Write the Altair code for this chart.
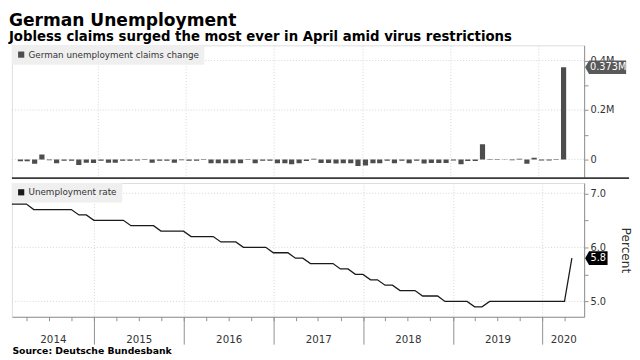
import altair as alt
import pandas as pd

# ---------------- data ----------------
# Monthly, Jan 2014 .. Apr 2020
first_month = "2014-01-01"
last_month = "2020-04-01"

# change in unemployment claims, thousands
claims_change_k = [
    -20, -7, -7, -17, 20, -3, -15, -5, -5, -23, -13, -14,     # 2014
    -5, -13, -13, -5, -5, -4, 2, -13, -5, -5, -13, -3,        # 2015
    -5, -5, 2, -15, -15, -15, -15, -15, -2, -15, -5, -5,      # 2016
    -15, -15, -20, -15, -6, 3, -14, -14, -16, -15, -15, -27,  # 2017
    -25, -15, -15, -5, -15, -5, -15, -5, -16, -14, -14, -14,  # 2018
    -4, -20, -6, -6, 61, -2, -2, 1, -3, 3, -17, 7,            # 2019
    -4, -4, -2, 373,                                          # 2020
]

# unemployment rate, percent
unemployment_rate = [
    6.8, 6.8, 6.8, 6.7, 6.7, 6.7, 6.7, 6.7, 6.7, 6.6, 6.6, 6.5,   # 2014
    6.5, 6.5, 6.5, 6.5, 6.4, 6.4, 6.4, 6.4, 6.3, 6.3, 6.3, 6.3,   # 2015
    6.2, 6.2, 6.2, 6.2, 6.1, 6.1, 6.1, 6.0, 6.0, 6.0, 6.0, 5.9,   # 2016
    5.9, 5.9, 5.8, 5.8, 5.7, 5.7, 5.7, 5.7, 5.6, 5.6, 5.5, 5.5,   # 2017
    5.4, 5.4, 5.3, 5.3, 5.2, 5.2, 5.2, 5.1, 5.1, 5.1, 5.0, 5.0,   # 2018
    5.0, 5.0, 4.9, 4.9, 5.0, 5.0, 5.0, 5.0, 5.0, 5.0, 5.0, 5.0,   # 2019
    5.0, 5.0, 5.0, 5.8,                                         # 2020
]

years = [2014, 2015, 2016, 2017, 2018, 2019, 2020]
claims_ticks = [0, 0.1, 0.2, 0.3, 0.4]
claims_grid = [0, 0.2, 0.4]
rate_ticks = [5.0, 5.5, 6.0, 6.5, 7.0]
rate_grid = [5.0, 6.0, 7.0]

claims_name = "German unemployment claims change"
rate_name = "Unemployment rate"
title_text = "German Unemployment"
subtitle_text = "Jobless claims surged the most ever in April amid virus restrictions"
source_text = "Source: Deutsche Bundesbank"

# ---------------- tables ----------------
months = pd.date_range(first_month, last_month, freq="MS")
bars_df = pd.DataFrame({
    "date": months + pd.Timedelta(days=14),
    "change": [v / 1000 for v in claims_change_k],
    "series": claims_name,
})
line_df = pd.DataFrame({
    "date": months + pd.offsets.MonthEnd(0),
    "rate": unemployment_rate,
    "series": rate_name,
})
tag_top_df = pd.DataFrame({"v": [claims_change_k[-1] / 1000],
                           "lab": [f"{claims_change_k[-1] / 1000:.3f}M"]})
tag_bot_df = pd.DataFrame({"v": [unemployment_rate[-1]],
                           "lab": [f"{unemployment_rate[-1]:.1f}"]})
grid_top_df = pd.DataFrame({"v": claims_grid})
grid_bot_df = pd.DataFrame({"v": rate_grid})

dom_start = pd.Timestamp("2014-01-31")
dom_end = pd.Timestamp("2020-06-19")


def dt(ts):
    return alt.DateTime(year=ts.year, month=ts.month, date=ts.day)


x_scale = alt.Scale(domain=[dt(dom_start), dt(dom_end)])
year_bounds = [dt(pd.Timestamp(y, 1, 1)) for y in years[1:]]
quarter_vals = [dt(d) for d in pd.date_range("2014-04-01", "2020-04-01", freq="QS")]
label_vals = []
for y in years:
    s = max(pd.Timestamp(y, 1, 1), dom_start)
    e = min(pd.Timestamp(y + 1, 1, 1), dom_end)
    label_vals.append(dt(s + (e - s) / 2))

# only months whose bar lies inside the shown time window
in_window = alt.FieldGTEPredicate(field="date", gte=dt(dom_start))

# ---------------- style ----------------
FONT = "DejaVu Sans"
W = 586
H1 = 136
H2 = 137
GRID = "#d4d4d4"
AX = "#8f8f8f"
TXT = "#333333"
BAR = "#4d4d4d"
LINE = "#1a1a1a"

y_top = alt.Scale(domain=[-0.0757, 0.4615], nice=False, zero=False)
y_bot = alt.Scale(domain=[4.715, 7.19], nice=False, zero=False)


def legend(fill):
    return alt.Legend(orient="top-left", offset=0, title=None, fillColor="#efefef",
                      padding=5, symbolType="square", symbolSize=40,
                      symbolStrokeWidth=0, symbolFillColor=fill, labelFont=FONT,
                      labelFontSize=9, labelColor=TXT, labelOffset=3, labelLimit=400,
                      cornerRadius=0)


# ---------------- top panel: claims change ----------------
top_grid = alt.Chart(grid_top_df).mark_rule(color=GRID, strokeDash=[1, 2]).encode(
    y=alt.Y("v:Q", scale=y_top, axis=None))
bars = alt.Chart(bars_df).transform_filter(in_window).mark_bar(width=5.3, clip=True).encode(
    x=alt.X("date:T", scale=x_scale,
            axis=alt.Axis(orient="bottom", values=year_bounds, grid=True, gridColor=GRID,
                          gridDash=[1, 2], labels=False, ticks=False, domain=False,
                          title=None)),
    y=alt.Y("change:Q", scale=y_top,
            axis=alt.Axis(orient="right", values=claims_ticks,
                          labelExpr="datum.value == 0 ? '0' : (round(datum.value * 10) % 2 == 0 ? format(datum.value, '.1f') + 'M' : '')",
                          tickSize=4, tickColor=AX, domainColor=AX, labelColor=TXT,
                          labelFont=FONT, labelFontSize=10, labelPadding=2,
                          grid=False, title=None)),
    color=alt.Color("series:N", scale=alt.Scale(range=[BAR]), legend=legend(BAR)),
)
divider = alt.Chart(tag_top_df).mark_rule(color="#3a3a3a", strokeWidth=2).encode(
    x=alt.value(0), x2=alt.value(W + 46), y=alt.value(H1))
tag_top = alt.Chart(tag_top_df).mark_point(
    shape="M-23,0L-19,-7L19,-7L19,7L-19,7Z", filled=True, size=4, opacity=1,
    color="#595959", strokeWidth=0).encode(
    x=alt.value(W + 24), y=alt.Y("v:Q", scale=y_top, axis=None))
tag_top_txt = alt.Chart(tag_top_df).mark_text(
    color="white", align="left", baseline="middle", font=FONT, fontSize=10).encode(
    x=alt.value(W + 6), y=alt.Y("v:Q", scale=y_top, axis=None), text="lab:N")

top = alt.layer(top_grid, bars, divider, tag_top, tag_top_txt).resolve_axis(
    x="independent", y="independent").properties(width=W, height=H1)

# ---------------- bottom panel: unemployment rate ----------------
bot_grid = alt.Chart(grid_bot_df).mark_rule(color=GRID, strokeDash=[1, 2]).encode(
    y=alt.Y("v:Q", scale=y_bot, axis=None))
line = alt.Chart(line_df).mark_line(strokeWidth=1.3).encode(
    x=alt.X("date:T", scale=x_scale,
            axis=alt.Axis(orient="bottom", values=year_bounds, grid=True, gridColor=GRID,
                          gridDash=[1, 2], labels=False, ticks=True, tickSize=28,
                          tickColor=AX, domain=True, domainColor=AX, title=None)),
    y=alt.Y("rate:Q", scale=y_bot,
            axis=alt.Axis(orient="right", values=rate_ticks,
                          labelExpr="datum.value % 1 == 0 ? format(datum.value, '.1f') : ''",
                          tickSize=4, tickColor=AX, domainColor=AX, labelColor=TXT,
                          labelFont=FONT, labelFontSize=10, labelPadding=2, grid=False,
                          title="Percent", titleFont=FONT, titleFontSize=12.5,
                          titleFontWeight="normal", titleColor=TXT, titlePadding=13)),
    color=alt.Color("series:N", scale=alt.Scale(range=[LINE]), legend=legend(LINE)),
)
quarter_ticks = alt.Chart(line_df).mark_line(opacity=0).encode(
    x=alt.X("date:T", scale=x_scale,
            axis=alt.Axis(orient="bottom", values=quarter_vals, tickSize=4, tickColor=AX,
                          labels=False, grid=False, domain=False, title=None)),
    y=alt.Y("rate:Q", scale=y_bot, axis=None),
)
year_labels = alt.Chart(line_df).mark_line(opacity=0).encode(
    x=alt.X("date:T", scale=x_scale,
            axis=alt.Axis(orient="bottom", values=label_vals, format="%Y", ticks=False,
                          domain=False, grid=False, labelPadding=18, labelFont=FONT,
                          labelFontSize=10.5, labelColor=TXT, labelFlush=False,
                          labelOverlap=False, title=source_text, titleFont=FONT,
                          titleFontSize=9.5, titleFontWeight="bold", titleColor="#000",
                          titleAnchor="start", titleAlign="left", titleX=0, titleY=35,
                          titleBaseline="middle")),
    y=alt.Y("rate:Q", scale=y_bot, axis=None),
)
tag_bot = alt.Chart(tag_bot_df).mark_point(
    shape="M-13.5,0L-9.5,-7L9.5,-7L9.5,7L-9.5,7Z", filled=True, size=4, opacity=1,
    color="#000000", strokeWidth=0).encode(
    x=alt.value(W + 14.5), y=alt.Y("v:Q", scale=y_bot, axis=None))
tag_bot_txt = alt.Chart(tag_bot_df).mark_text(
    color="white", align="left", baseline="middle", font=FONT, fontSize=10).encode(
    x=alt.value(W + 6.5), y=alt.Y("v:Q", scale=y_bot, axis=None), text="lab:N")

bottom = alt.layer(bot_grid, line, quarter_ticks, year_labels, tag_bot, tag_bot_txt
                   ).resolve_axis(x="independent", y="independent").properties(
    width=W, height=H2)

chart = alt.vconcat(top, bottom, spacing=2).resolve_scale(
    color="independent", x="independent", y="independent"
).properties(
    title=alt.TitleParams(text=title_text, subtitle=subtitle_text, anchor="start",
                          font=FONT, subtitleFont=FONT, fontSize=17.5, subtitleFontSize=13.6,
                          fontWeight="bold", subtitleFontWeight="bold", color="#000",
                          subtitleColor="#000", offset=1, subtitlePadding=1),
    padding=0,
).configure_view(stroke=None).configure(font=FONT)

chart.save("out.html", embed_options={"renderer": "svg", "actions": False})
